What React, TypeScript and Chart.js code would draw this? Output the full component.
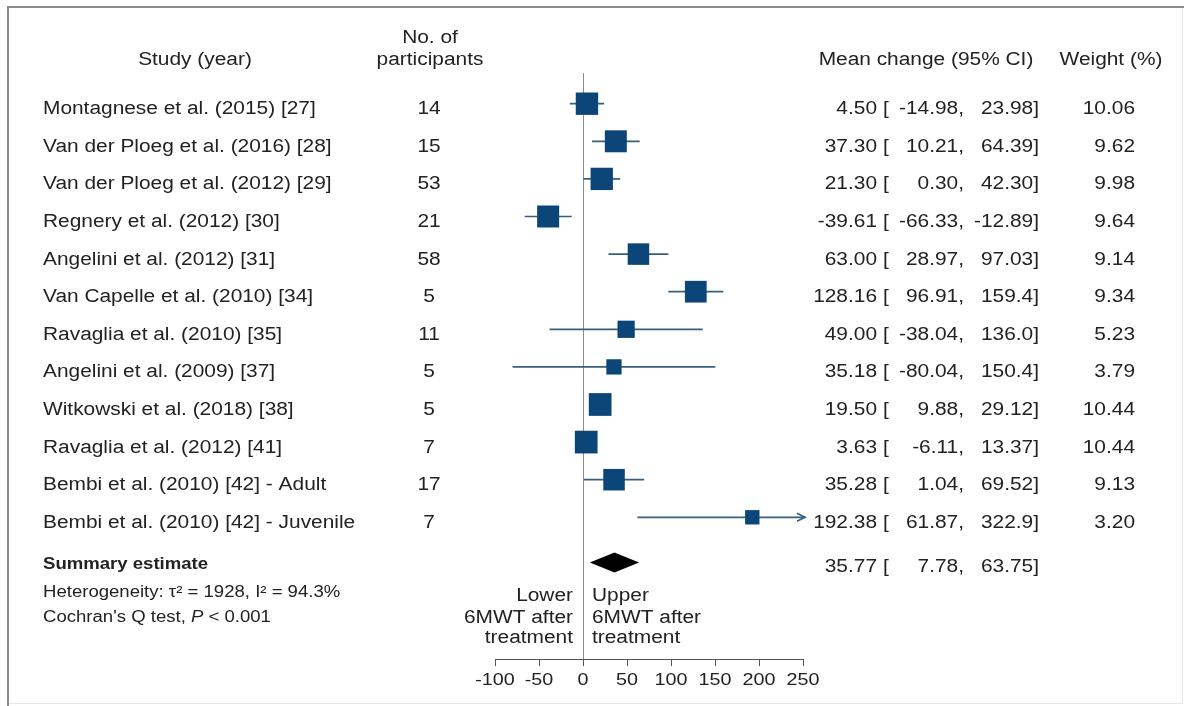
import { useEffect, useRef } from 'react';
import { Chart, registerables } from 'chart.js';

Chart.register(...registerables);

// ---- data ----
const studies = [
  'Montagnese et al. (2015) [27]',
  'Van der Ploeg et al. (2016) [28]',
  'Van der Ploeg et al. (2012) [29]',
  'Regnery et al. (2012) [30]',
  'Angelini et al. (2012) [31]',
  'Van Capelle et al. (2010) [34]',
  'Ravaglia et al. (2010) [35]',
  'Angelini et al. (2009) [37]',
  'Witkowski et al. (2018) [38]',
  'Ravaglia et al. (2012) [41]',
  'Bembi et al. (2010) [42] - Adult',
  'Bembi et al. (2010) [42] - Juvenile',
];
const participants = [14, 15, 53, 21, 58, 5, 11, 5, 5, 7, 17, 7];
const meanChange = [4.5, 37.3, 21.3, -39.61, 63.0, 128.16, 49.0, 35.18, 19.5, 3.63, 35.28, 192.38];
const ciLower = [-14.98, 10.21, 0.3, -66.33, 28.97, 96.91, -38.04, -80.04, 9.88, -6.11, 1.04, 61.87];
const ciUpper = [23.98, 64.39, 42.3, -12.89, 97.03, 159.4, 136.0, 150.4, 29.12, 13.37, 69.52, 322.9];
const weights = [10.06, 9.62, 9.98, 9.64, 9.14, 9.34, 5.23, 3.79, 10.44, 10.44, 9.13, 3.2];
const summaryEstimate = 35.77;
const summaryLower = 7.78;
const summaryUpper = 63.75;
const xTicks = [-100, -50, 0, 50, 100, 150, 200, 250];

// ---- layout / style ----
const W = 1184;
const H = 706;
const SUMMARY_ROW = 12.2;
const Y_MIN = -0.8165;
const Y_MAX = 14.769;
const SX = 1.16; // horizontal text stretch
const FONT = '"Liberation Sans", Arial, Helvetica, sans-serif';
const TEXT = '#222222';
const BOX = '#0c4678';
const CI_LINE = '#37607f';

const boxSide = (w: number) => 4 + 5.8 * Math.sqrt(w);
const fmtEst = (v: number) => v.toFixed(2);
const fmtBound = (v: number) => (Math.abs(v) >= 100 ? v.toFixed(1) : v.toFixed(2));

function txt(
  ctx: CanvasRenderingContext2D,
  s: string,
  x: number,
  y: number,
  align: CanvasTextAlign,
  size: number,
  weight = 'normal',
  style = 'normal'
) {
  ctx.save();
  ctx.font = `${style} ${weight} ${size}px ${FONT}`;
  ctx.fillStyle = TEXT;
  ctx.translate(x, y);
  ctx.scale(SX, 1);
  ctx.textAlign = align;
  ctx.textBaseline = 'alphabetic';
  ctx.fillText(s, 0, 0);
  ctx.restore();
}

function textWidth(ctx: CanvasRenderingContext2D, s: string, size: number, weight = 'normal', style = 'normal') {
  ctx.save();
  ctx.font = `${style} ${weight} ${size}px ${FONT}`;
  const w = ctx.measureText(s).width * SX;
  ctx.restore();
  return w;
}

const forestDecor = {
  id: 'forestDecor',
  beforeDraw(chart: any) {
    const ctx: CanvasRenderingContext2D = chart.ctx;
    ctx.save();
    ctx.fillStyle = '#ffffff';
    ctx.fillRect(0, 0, W, H);
    // outer frame
    ctx.strokeStyle = '#e6e6e6';
    ctx.lineWidth = 1;
    ctx.beginPath();
    ctx.moveTo(1182.5, 7);
    ctx.lineTo(1182.5, 703.5);
    ctx.lineTo(7, 703.5);
    ctx.stroke();
    ctx.strokeStyle = '#8a8a8a';
    ctx.lineWidth = 2;
    ctx.beginPath();
    ctx.moveTo(8, H);
    ctx.lineTo(8, 7);
    ctx.lineTo(W, 7);
    ctx.stroke();
    ctx.restore();
  },
  beforeDatasetsDraw(chart: any) {
    const ctx: CanvasRenderingContext2D = chart.ctx;
    const xs = chart.scales.x;
    const ys = chart.scales.y;
    ctx.save();
    ctx.strokeStyle = CI_LINE;
    ctx.lineWidth = 1.7;
    meanChange.forEach((_, i) => {
      const y = ys.getPixelForValue(i);
      const x1 = xs.getPixelForValue(Math.max(ciLower[i], xs.min));
      const over = ciUpper[i] > xs.max;
      const x2 = over ? xs.getPixelForValue(xs.max) + 2 : xs.getPixelForValue(ciUpper[i]);
      ctx.beginPath();
      ctx.moveTo(x1, y);
      ctx.lineTo(x2, y);
      ctx.stroke();
      if (over) {
        ctx.beginPath();
        ctx.moveTo(x2 - 8, y - 4);
        ctx.lineTo(x2, y);
        ctx.lineTo(x2 - 8, y + 4);
        ctx.stroke();
      }
    });
    ctx.restore();
  },
  afterDatasetsDraw(chart: any) {
    const ctx: CanvasRenderingContext2D = chart.ctx;
    const xs = chart.scales.x;
    const ys = chart.scales.y;
    const y = ys.getPixelForValue(SUMMARY_ROW);
    ctx.save();
    ctx.fillStyle = '#000000';
    ctx.beginPath();
    ctx.moveTo(xs.getPixelForValue(summaryLower), y);
    ctx.lineTo(xs.getPixelForValue(summaryEstimate), y - 10);
    ctx.lineTo(xs.getPixelForValue(summaryUpper), y);
    ctx.lineTo(xs.getPixelForValue(summaryEstimate), y + 10);
    ctx.closePath();
    ctx.fill();
    ctx.restore();
  },
  afterDraw(chart: any) {
    const ctx: CanvasRenderingContext2D = chart.ctx;
    const xs = chart.scales.x;
    const ys = chart.scales.y;
    const F = 18;

    // column headers
    txt(ctx, 'Study (year)', 195, 65, 'center', F);
    txt(ctx, 'No. of', 430, 43, 'center', F);
    txt(ctx, 'participants', 430, 65, 'center', F);
    txt(ctx, 'Mean change (95% CI)', 926, 65, 'center', F);
    txt(ctx, 'Weight (%)', 1111, 65, 'center', F);

    // study rows
    studies.forEach((name, i) => {
      const b = ys.getPixelForValue(i) + 10.5;
      txt(ctx, name, 43, b, 'left', F);
      txt(ctx, String(participants[i]), 429, b, 'center', F);
      txt(ctx, fmtEst(meanChange[i]), 877, b, 'right', F);
      txt(ctx, '[', 883, b, 'left', F);
      txt(ctx, fmtBound(ciLower[i]) + ',', 964, b, 'right', F);
      txt(ctx, fmtBound(ciUpper[i]) + ']', 1039, b, 'right', F);
      txt(ctx, weights[i].toFixed(2), 1135, b, 'right', F);
    });

    // summary row
    const sb = ys.getPixelForValue(SUMMARY_ROW) + 9.5;
    txt(ctx, fmtEst(summaryEstimate), 877, sb, 'right', F);
    txt(ctx, '[', 883, sb, 'left', F);
    txt(ctx, fmtBound(summaryLower) + ',', 964, sb, 'right', F);
    txt(ctx, fmtBound(summaryUpper) + ']', 1039, sb, 'right', F);

    const S = 16;
    txt(ctx, 'Summary estimate', 43, sb - 2.5, 'left', S, 'bold');
    txt(ctx, 'Heterogeneity: \u03C4\u00B2 = 1928, I\u00B2 = 94.3%', 43, 597, 'left', S);
    let cx = 43;
    const p1 = "Cochran's Q test, ";
    txt(ctx, p1, cx, 622, 'left', S);
    cx += textWidth(ctx, p1, S);
    txt(ctx, 'P', cx, 622, 'left', S, 'normal', 'italic');
    cx += textWidth(ctx, 'P', S, 'normal', 'italic');
    txt(ctx, ' < 0.001', cx, 622, 'left', S);

    // direction captions
    const zx = xs.getPixelForValue(0);
    txt(ctx, 'Lower', zx - 10, 601, 'right', F);
    txt(ctx, '6MWT after', zx - 10, 623, 'right', F);
    txt(ctx, 'treatment', zx - 10, 643, 'right', F);
    txt(ctx, 'Upper', zx + 9, 601, 'left', F);
    txt(ctx, '6MWT after', zx + 9, 623, 'left', F);
    txt(ctx, 'treatment', zx + 9, 643, 'left', F);

    // axis tick labels
    xTicks.forEach((v) => {
      txt(ctx, String(v), xs.getPixelForValue(v), 685, 'center', 17);
    });
  },
};

export default function App() {
  const canvasRef = useRef<HTMLCanvasElement | null>(null);

  useEffect(() => {
    const canvas = canvasRef.current;
    if (!canvas) return;
    const chart = new Chart(canvas, {
      type: 'scatter',
      data: {
        datasets: [
          {
            label: 'Mean change',
            data: meanChange.map((m, i) => ({ x: m, y: i })),
            pointStyle: 'rect',
            pointRadius: weights.map((w) => boxSide(w) / Math.SQRT2),
            pointBackgroundColor: BOX,
            pointBorderWidth: 0,
            backgroundColor: BOX,
            borderColor: BOX,
          } as any,
        ],
      },
      options: {
        responsive: false,
        devicePixelRatio: 1,
        animation: false,
        events: [],
        layout: { padding: { left: 495, right: 381, top: 73, bottom: 7 } },
        plugins: { legend: { display: false }, tooltip: { enabled: false } },
        scales: {
          x: {
            type: 'linear',
            position: 'bottom',
            min: xTicks[0],
            max: xTicks[xTicks.length - 1],
            afterBuildTicks: (scale: any) => {
              scale.ticks = xTicks.map((v) => ({ value: v }));
            },
            afterFit: (scale: any) => {
              scale.height = 40;
            },
            grid: {
              display: true,
              drawOnChartArea: true,
              drawTicks: true,
              tickLength: 7,
              tickColor: '#555555',
              lineWidth: 1,
              color: (c: any) => (c.tick && c.tick.value === 0 ? '#8c8c8c' : 'rgba(0,0,0,0)'),
            },
            border: { display: true, color: '#555555', width: 1 },
            ticks: { display: false },
          },
          y: {
            type: 'linear',
            display: false,
            reverse: true,
            min: Y_MIN,
            max: Y_MAX,
          },
        },
      },
      plugins: [forestDecor],
    } as any);
    return () => chart.destroy();
  }, []);

  return (
    <div style={{ position: 'fixed', left: 0, top: 0, width: W, height: H, background: '#fff' }}>
      <canvas ref={canvasRef} width={W} height={H} style={{ width: W, height: H, display: 'block' }} />
    </div>
  );
}
